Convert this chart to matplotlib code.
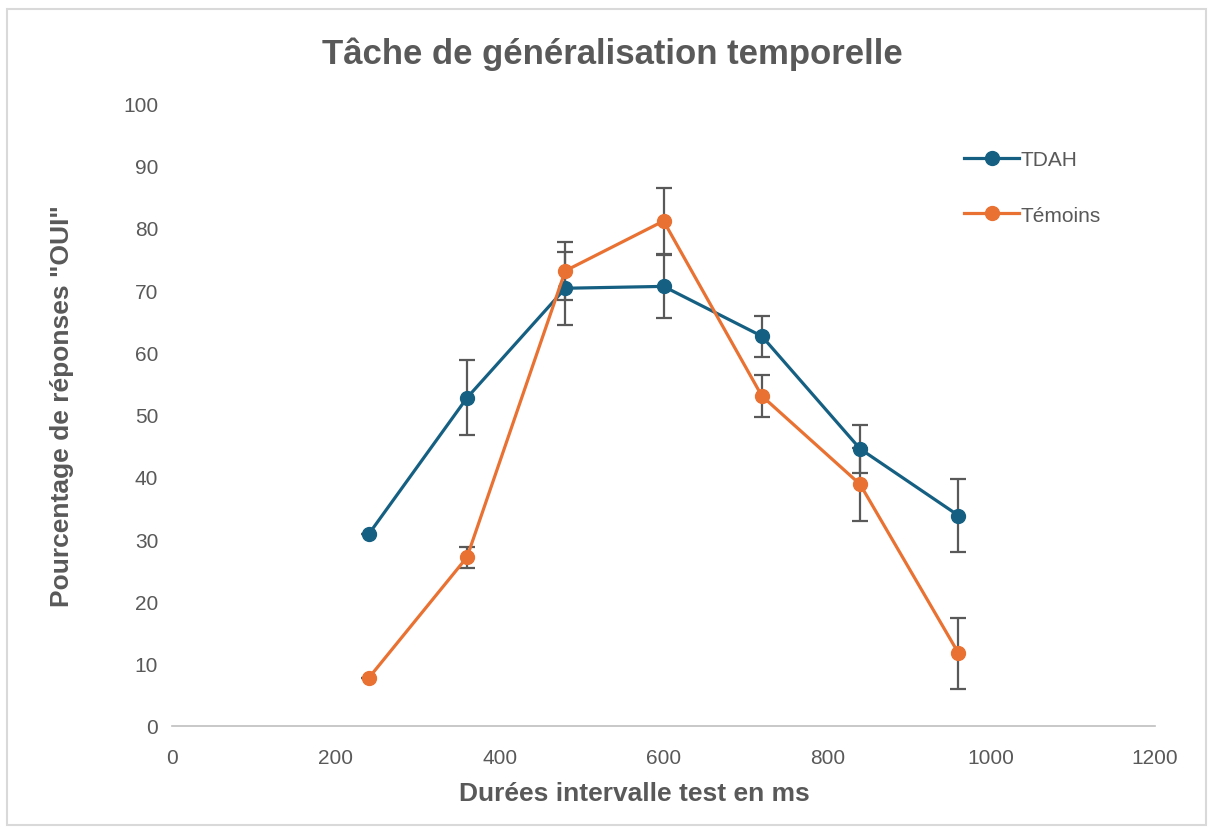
import matplotlib.pyplot as plt
from matplotlib.patches import Rectangle

# ---------------------------------------------------------------------------
# Data
# ---------------------------------------------------------------------------
durees = [240, 360, 480, 600, 720, 840, 960]

tdah = [30.8, 52.7, 70.3, 70.6, 62.6, 44.5, 33.8]
tdah_err = [0, 6.0, 5.9, 5.1, 3.3, 3.8, 5.9]

temoins = [7.7, 27.1, 73.1, 81.1, 53.0, 38.8, 11.7]
temoins_err = [0, 1.7, 4.7, 5.3, 3.3, 5.9, 5.7]

x_ticks = [0, 200, 400, 600, 800, 1000, 1200]
y_ticks = [0, 10, 20, 30, 40, 50, 60, 70, 80, 90, 100]

BLUE = "#156082"
ORANGE = "#E97132"
GRAY = "#595959"

plt.rcParams["font.family"] = ["Liberation Sans", "DejaVu Sans"]

fig = plt.figure(figsize=(12.12, 8.28), dpi=100)
ax = fig.add_axes([0.142, 0.122, 0.811, 0.752])

# light frame around the whole chart
fig.patches.append(
    Rectangle((0.006, 0.003), 0.989, 0.985, transform=fig.transFigure,
              fill=False, edgecolor="#D9D9D9", linewidth=1.5)
)

for y, err, color, label in [
    (tdah, tdah_err, BLUE, "TDAH"),
    (temoins, temoins_err, ORANGE, "Témoins"),
]:
    ax.errorbar(
        durees, y, yerr=err,
        color=color, linewidth=2.3,
        marker="o", markersize=10,
        ecolor=GRAY, elinewidth=1.6, capsize=6, capthick=1.6,
        label=label,
    )

ax.set_xlim(0, 1200)
ax.set_ylim(0, 100)
ax.set_xticks(x_ticks)
ax.set_yticks(y_ticks)
ax.tick_params(axis="x", length=0, labelsize=15, colors=GRAY, pad=16)
ax.tick_params(axis="y", length=0, labelsize=15, colors=GRAY, pad=10)

for side in ["top", "right", "left"]:
    ax.spines[side].set_visible(False)
ax.spines["bottom"].set_color("#BFBFBF")
ax.spines["bottom"].set_linewidth(1.2)

ax.set_xlabel("Durées intervalle test en ms", fontsize=19, fontweight="bold",
              color=GRAY)
ax.xaxis.set_label_coords(0.47, -0.088)
ax.set_ylabel('Pourcentage de réponses "OUI"', fontsize=19, fontweight="bold",
              color=GRAY)
ax.yaxis.set_label_coords(-0.100, 0.515)

fig.text(0.505, 0.934, "Tâche de généralisation temporelle", ha="center",
         va="center", fontsize=25, fontweight="bold", color=GRAY)

handles, labels = ax.get_legend_handles_labels()
handles = [h[0] for h in handles]
leg = ax.legend(handles, labels, loc="upper left",
                bbox_to_anchor=(0.787, 0.955), frameon=False,
                fontsize=15, labelspacing=1.75, handlelength=2.6,
                handletextpad=0.1)
for t in leg.get_texts():
    t.set_color(GRAY)

fig.savefig("out.png", dpi=100)
